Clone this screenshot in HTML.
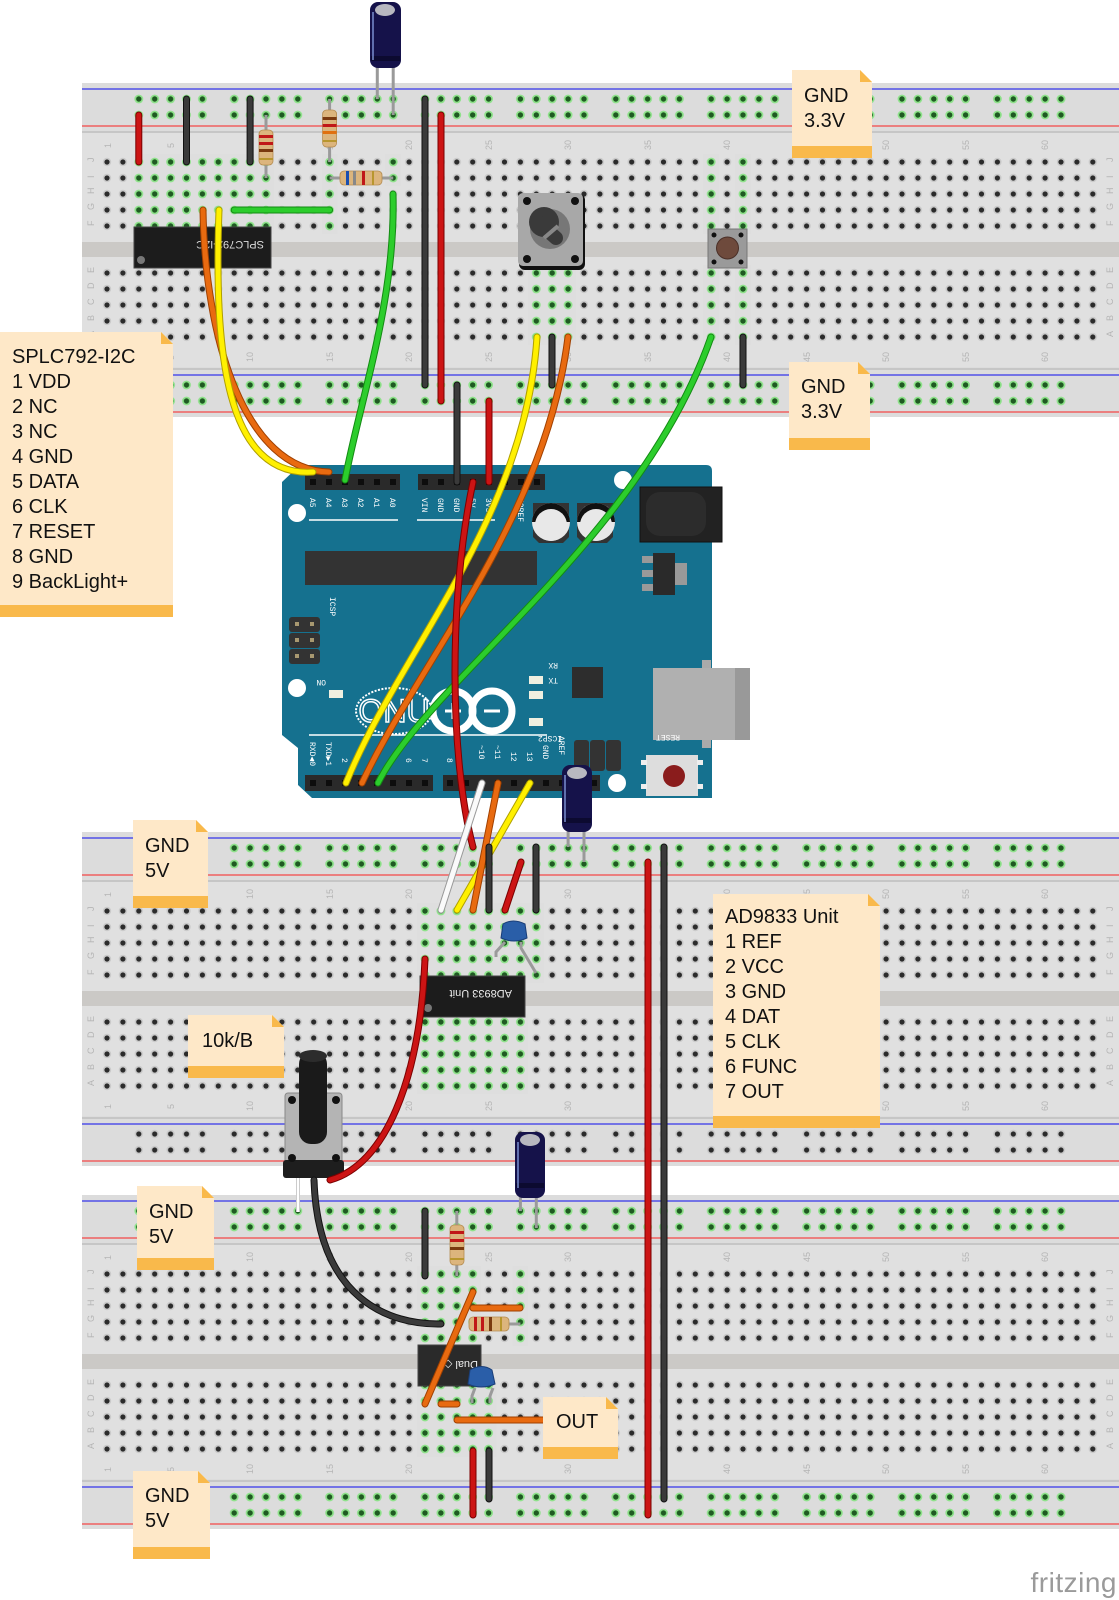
<!DOCTYPE html>
<html><head><meta charset="utf-8"><style>
html,body{margin:0;padding:0;background:#fff;}
svg{display:block;}
.n{font-family:"Liberation Sans",sans-serif;font-size:20px;fill:#111;}
.lb{font-family:"Liberation Sans",sans-serif;font-size:9px;fill:#b5b5b5;}
</style></head><body>
<svg width="1119" height="1600" viewBox="0 0 1119 1600" xmlns="http://www.w3.org/2000/svg">
<defs>
<pattern id="h" x="99.05" y="-8" width="15.9" height="16" patternUnits="userSpaceOnUse"><circle cx="7.95" cy="8" r="4.2" fill="#cacaca"/><circle cx="7.95" cy="8" r="2.6" fill="#2b2b2b"/></pattern>
<pattern id="hg" x="99.05" y="-8" width="15.9" height="16" patternUnits="userSpaceOnUse"><rect width="15.9" height="16" fill="#dedede"/><circle cx="7.95" cy="8" r="4.4" fill="#8ee28a"/><circle cx="7.95" cy="8" r="2.7" fill="#1f5a22"/></pattern>
<pattern id="r" x="130.85" y="-8" width="95.4" height="16" patternUnits="userSpaceOnUse"><g fill="#cacaca"><circle cx="7.95" cy="8" r="4.2"/><circle cx="23.85" cy="8" r="4.2"/><circle cx="39.75" cy="8" r="4.2"/><circle cx="55.65" cy="8" r="4.2"/><circle cx="71.55" cy="8" r="4.2"/></g><g fill="#2b2b2b"><circle cx="7.95" cy="8" r="2.6"/><circle cx="23.85" cy="8" r="2.6"/><circle cx="39.75" cy="8" r="2.6"/><circle cx="55.65" cy="8" r="2.6"/><circle cx="71.55" cy="8" r="2.6"/></g></pattern>
<pattern id="rg" x="130.85" y="-8" width="95.4" height="16" patternUnits="userSpaceOnUse"><g fill="#8ee28a"><circle cx="7.95" cy="8" r="4.4"/><circle cx="23.85" cy="8" r="4.4"/><circle cx="39.75" cy="8" r="4.4"/><circle cx="55.65" cy="8" r="4.4"/><circle cx="71.55" cy="8" r="4.4"/></g><g fill="#1f5a22"><circle cx="7.95" cy="8" r="2.7"/><circle cx="23.85" cy="8" r="2.7"/><circle cx="39.75" cy="8" r="2.7"/><circle cx="55.65" cy="8" r="2.7"/><circle cx="71.55" cy="8" r="2.7"/></g></pattern>
<g id="bb">
<rect x="82" y="83" width="1037" height="334" fill="#dcdcdc"/>
<rect x="82" y="133" width="1037" height="234" fill="#e0e0e0"/>
<rect x="82" y="242" width="1037" height="15" fill="#cbc9c6"/>
<line x1="82" y1="89" x2="1119" y2="89" stroke="#5050e8" stroke-width="1.5"/>
<line x1="82" y1="126" x2="1119" y2="126" stroke="#f06060" stroke-width="1.5"/>
<line x1="82" y1="132" x2="1119" y2="132" stroke="#c6c6c6" stroke-width="2"/>
<line x1="82" y1="369" x2="1119" y2="369" stroke="#c6c6c6" stroke-width="2"/>
<line x1="82" y1="375" x2="1119" y2="375" stroke="#5050e8" stroke-width="1.5"/>
<line x1="82" y1="412" x2="1119" y2="412" stroke="#f06060" stroke-width="1.5"/>
<g transform="translate(0,162)"><rect x="99.05" y="-8" width="1001.7" height="80" fill="url(#h)"/></g>
<g transform="translate(0,273)"><rect x="99.05" y="-8" width="1001.7" height="80" fill="url(#h)"/></g>
<g transform="translate(0,99)"><rect x="130.85" y="-8" width="954" height="32" fill="url(#r)"/></g>
<g transform="translate(0,385)"><rect x="130.85" y="-8" width="954" height="32" fill="url(#r)"/></g>
<g class="lb">
<text x="91" y="165" transform="rotate(-90 91 162)">J</text><text x="91" y="181" transform="rotate(-90 91 178)">I</text><text x="91" y="197" transform="rotate(-90 91 194)">H</text><text x="91" y="213" transform="rotate(-90 91 210)">G</text><text x="91" y="229" transform="rotate(-90 91 226)">F</text>
<text x="91" y="276" transform="rotate(-90 91 273)">E</text><text x="91" y="292" transform="rotate(-90 91 289)">D</text><text x="91" y="308" transform="rotate(-90 91 305)">C</text><text x="91" y="324" transform="rotate(-90 91 321)">B</text><text x="91" y="340" transform="rotate(-90 91 337)">A</text>
<text x="1110" y="165" transform="rotate(-90 1110 162)">J</text><text x="1110" y="181" transform="rotate(-90 1110 178)">I</text><text x="1110" y="197" transform="rotate(-90 1110 194)">H</text><text x="1110" y="213" transform="rotate(-90 1110 210)">G</text><text x="1110" y="229" transform="rotate(-90 1110 226)">F</text>
<text x="1110" y="276" transform="rotate(-90 1110 273)">E</text><text x="1110" y="292" transform="rotate(-90 1110 289)">D</text><text x="1110" y="308" transform="rotate(-90 1110 305)">C</text><text x="1110" y="324" transform="rotate(-90 1110 321)">B</text><text x="1110" y="340" transform="rotate(-90 1110 337)">A</text>
<text transform="translate(111,148) rotate(-90)">1</text><text transform="translate(174,148) rotate(-90)">5</text><text transform="translate(253,150) rotate(-90)">10</text><text transform="translate(333,150) rotate(-90)">15</text><text transform="translate(412,150) rotate(-90)">20</text><text transform="translate(492,150) rotate(-90)">25</text><text transform="translate(571,150) rotate(-90)">30</text><text transform="translate(651,150) rotate(-90)">35</text><text transform="translate(730,150) rotate(-90)">40</text><text transform="translate(810,150) rotate(-90)">45</text><text transform="translate(889,150) rotate(-90)">50</text><text transform="translate(969,150) rotate(-90)">55</text><text transform="translate(1048,150) rotate(-90)">60</text>
<text transform="translate(111,360) rotate(-90)">1</text><text transform="translate(174,360) rotate(-90)">5</text><text transform="translate(253,362) rotate(-90)">10</text><text transform="translate(333,362) rotate(-90)">15</text><text transform="translate(412,362) rotate(-90)">20</text><text transform="translate(492,362) rotate(-90)">25</text><text transform="translate(571,362) rotate(-90)">30</text><text transform="translate(651,362) rotate(-90)">35</text><text transform="translate(730,362) rotate(-90)">40</text><text transform="translate(810,362) rotate(-90)">45</text><text transform="translate(889,362) rotate(-90)">50</text><text transform="translate(969,362) rotate(-90)">55</text><text transform="translate(1048,362) rotate(-90)">60</text>
</g>
</g>
</defs>

<!-- breadboards -->
<use href="#bb"/>
<use href="#bb" y="749"/>
<use href="#bb" y="1112"/>

<!-- green overlays bb1 -->
<g transform="translate(0,99)"><rect x="130.85" y="-8" width="954" height="32" fill="url(#rg)"/></g>
<g transform="translate(0,385)"><rect x="130.85" y="-8" width="954" height="32" fill="url(#rg)"/></g>
<g transform="translate(0,162)"><rect x="130.85" y="-8" width="143.1" height="80" fill="url(#hg)"/><rect x="321.65" y="-8" width="15.9" height="80" fill="url(#hg)"/><rect x="385.25" y="-8" width="15.9" height="32" fill="url(#hg)"/><rect x="703.25" y="-8" width="15.9" height="80" fill="url(#hg)"/><rect x="735.05" y="-8" width="15.9" height="80" fill="url(#hg)"/></g>
<g transform="translate(0,273)"><rect x="528.35" y="-8" width="47.7" height="80" fill="url(#hg)"/><rect x="703.25" y="-8" width="15.9" height="80" fill="url(#hg)"/><rect x="735.05" y="-8" width="15.9" height="80" fill="url(#hg)"/></g>
<!-- bb2 -->
<g transform="translate(0,848)"><rect x="130.85" y="-8" width="954" height="32" fill="url(#rg)"/></g>
<g transform="translate(0,911)"><rect x="417.05" y="-8" width="127.2" height="80" fill="url(#hg)"/></g>
<g transform="translate(0,1022)"><rect x="417.05" y="-8" width="111.3" height="80" fill="url(#hg)"/></g>
<!-- bb3 -->
<g transform="translate(0,1211)"><rect x="130.85" y="-8" width="954" height="32" fill="url(#rg)"/></g>
<g transform="translate(0,1497)"><rect x="130.85" y="-8" width="954" height="32" fill="url(#rg)"/></g>
<g transform="translate(0,1274)"><rect x="417.05" y="-8" width="63.6" height="80" fill="url(#hg)"/><rect x="512.45" y="-8" width="15.9" height="80" fill="url(#hg)"/></g>
<g transform="translate(0,1385)"><rect x="417.05" y="-8" width="79.5" height="80" fill="url(#hg)"/></g>

<!-- bb1 parts -->
<g stroke-linecap="round" fill="none">
<line x1="138.8" y1="115" x2="138.8" y2="162" stroke="#7a0000" stroke-width="7"/><line x1="138.8" y1="115" x2="138.8" y2="162" stroke="#cc1414" stroke-width="5"/>
<line x1="186.5" y1="99" x2="186.5" y2="162" stroke="#111" stroke-width="7"/><line x1="186.5" y1="99" x2="186.5" y2="162" stroke="#3a3a3a" stroke-width="5"/>
<line x1="250.1" y1="99" x2="250.1" y2="162" stroke="#111" stroke-width="7"/><line x1="250.1" y1="99" x2="250.1" y2="162" stroke="#3a3a3a" stroke-width="5"/>
<line x1="234.2" y1="210" x2="329.6" y2="210" stroke="#138a13" stroke-width="7"/><line x1="234.2" y1="210" x2="329.6" y2="210" stroke="#2ccd2c" stroke-width="5"/>
</g>
<!-- resistors bb1 -->
<line x1="266" y1="115" x2="266" y2="178" stroke="#9a9a9a" stroke-width="3"/>
<rect x="259" y="130" width="14" height="35" rx="4" fill="#dcb57d" stroke="#b58c50" stroke-width="0.8"/>
<rect x="259" y="135" width="14" height="3" fill="#c01818"/><rect x="259" y="142" width="14" height="3" fill="#c01818"/><rect x="259" y="149" width="14" height="3" fill="#7a3a10"/><rect x="259" y="158" width="14" height="2" fill="#b8962e"/>
<line x1="329.6" y1="99" x2="329.6" y2="162" stroke="#9a9a9a" stroke-width="3"/>
<rect x="322.6" y="110" width="14" height="37" rx="4" fill="#dcb57d" stroke="#b58c50" stroke-width="0.8"/>
<rect x="322.6" y="117" width="14" height="3" fill="#7a3a10"/><rect x="322.6" y="124" width="14" height="3" fill="#c01818"/><rect x="322.6" y="131" width="14" height="3" fill="#e07010"/><rect x="322.6" y="140" width="14" height="2" fill="#b8962e"/>
<line x1="329.6" y1="178" x2="393.2" y2="178" stroke="#9a9a9a" stroke-width="3"/>
<rect x="340" y="171" width="42" height="14" rx="4" fill="#dcb57d" stroke="#b58c50" stroke-width="0.8"/>
<rect x="346" y="171" width="3" height="14" fill="#1a4fb0"/><rect x="353" y="171" width="3" height="14" fill="#888"/><rect x="362" y="171" width="3" height="14" fill="#c01818"/><rect x="372" y="171" width="2" height="14" fill="#b8962e"/>
<!-- SPLC chip -->
<rect x="134" y="227" width="137" height="41" fill="#1c1c1c" stroke="#444"/>
<text x="0" y="0" transform="translate(264,241) rotate(180)" font-family="Liberation Sans,sans-serif" font-size="11" fill="#ddd">SPLC792-I2C</text>
<circle cx="141" cy="260" r="4" fill="#777"/>
<!-- top capacitor -->
<line x1="377.3" y1="60" x2="377.3" y2="99" stroke="#9a9a9a" stroke-width="3"/><line x1="393.2" y1="60" x2="393.2" y2="115" stroke="#9a9a9a" stroke-width="3"/>
<rect x="370" y="2" width="31" height="66" rx="8" fill="#15124a"/>
<rect x="371" y="56" width="29" height="5" fill="#0c0a30"/>
<ellipse cx="385" cy="10" rx="10" ry="6" fill="#b8b8c0"/>
<line x1="373" y1="12" x2="373" y2="60" stroke="#7a8ed0" stroke-width="1.5"/>
<!-- pot bb1 -->
<rect x="519" y="194" width="66" height="76" rx="6" fill="#111"/>
<rect x="518" y="193" width="65" height="73" rx="5" fill="#a8a8a8"/>
<circle cx="527" cy="201" r="4" fill="#111"/><circle cx="575" cy="201" r="4" fill="#111"/><circle cx="527" cy="259" r="4" fill="#111"/><circle cx="575" cy="259" r="4" fill="#111"/>
<circle cx="550" cy="229" r="20" fill="#777"/>
<circle cx="544" cy="222" r="15" fill="#3a3a3a"/>
<path d="M538,222 L556,238" stroke="#3a3a3a" stroke-width="14" stroke-linecap="round"/>
<path d="M544,238 L558,226" stroke="#888" stroke-width="4"/>
<!-- pushbutton -->
<rect x="708" y="229" width="39" height="39" fill="#9a9a9a" stroke="#777"/>
<circle cx="714" cy="235" r="2.5" fill="#111"/><circle cx="741" cy="235" r="2.5" fill="#111"/><circle cx="714" cy="262" r="2.5" fill="#111"/><circle cx="741" cy="262" r="2.5" fill="#111"/>
<circle cx="727.5" cy="248" r="11" fill="#6e4a3c" stroke="#4a3028"/>

<!-- Arduino -->
<path d="M300,465 L706,465 Q712,465 712,471 L712,798 L312,798 L298,785 L298,748 L282,735 L282,482 Z" fill="#15718f"/>
<circle cx="297" cy="513" r="9" fill="#fff"/><circle cx="623" cy="480" r="9" fill="#fff"/><circle cx="297" cy="688" r="9" fill="#fff"/><circle cx="617" cy="783" r="9" fill="#fff"/>
<rect x="305" y="551" width="232" height="34" fill="#333"/>
<path d="M533,503 h36 v34 l-6,6 h-24 l-6,-6 z" fill="#333"/><circle cx="551" cy="522" r="19" fill="#e8e8e8"/><path d="M532,522 a19,19 0 0 1 38,0 z" fill="#111" transform="rotate(0)"/><circle cx="551" cy="525" r="16" fill="#e8e8e8"/>
<path d="M577,503 h36 v34 l-6,6 h-24 l-6,-6 z" fill="#333"/><circle cx="596" cy="522" r="19" fill="#e8e8e8"/><path d="M577,522 a19,19 0 0 1 38,0 z" fill="#111"/><circle cx="596" cy="525" r="16" fill="#e8e8e8"/>
<rect x="640" y="487" width="82" height="55" fill="#222" stroke="#111"/><rect x="646" y="492" width="60" height="44" rx="14" fill="#2c2c2c"/>
<rect x="642" y="556" width="11" height="7" fill="#999"/><rect x="642" y="570" width="11" height="7" fill="#999"/><rect x="642" y="584" width="11" height="7" fill="#999"/><rect x="675" y="563" width="12" height="22" fill="#999"/><rect x="653" y="553" width="22" height="42" fill="#2a2a2a"/>
<rect x="653" y="668" width="97" height="72" fill="#b0b0b0"/><rect x="735" y="668" width="15" height="72" fill="#999"/><rect x="702" y="660" width="9" height="8" fill="#aaa"/><rect x="702" y="740" width="9" height="8" fill="#aaa"/>
<rect x="572" y="667" width="31" height="31" fill="#2d2d2d"/>
<rect x="646" y="755" width="52" height="41" fill="#ddd"/><rect x="641" y="760" width="6" height="5" fill="#eee"/><rect x="697" y="760" width="6" height="5" fill="#eee"/><rect x="641" y="784" width="6" height="5" fill="#eee"/><rect x="697" y="784" width="6" height="5" fill="#eee"/><circle cx="674" cy="776" r="11" fill="#8a1c1c"/>
<g fill="#333"><rect x="289" y="617" width="31" height="15" rx="3"/><rect x="289" y="633" width="31" height="15" rx="3"/><rect x="289" y="649" width="31" height="15" rx="3"/></g>
<g fill="#a89870"><rect x="295" y="622" width="4" height="4"/><rect x="310" y="622" width="4" height="4"/><rect x="295" y="638" width="4" height="4"/><rect x="310" y="638" width="4" height="4"/><rect x="295" y="654" width="4" height="4"/><rect x="310" y="654" width="4" height="4"/></g>
<g fill="#333"><rect x="574" y="740" width="15" height="31" rx="3"/><rect x="590" y="740" width="15" height="31" rx="3"/><rect x="606" y="740" width="15" height="31" rx="3"/></g>
<g fill="#efefe0"><rect x="329" y="690" width="14" height="8"/><rect x="529" y="676" width="14" height="8"/><rect x="529" y="691" width="14" height="8"/><rect x="529" y="718" width="14" height="8"/></g>
<ellipse cx="394" cy="711" rx="38" ry="23" fill="none" stroke="#fff" stroke-width="2" stroke-dasharray="2 1.5"/>
<text x="394" y="722" text-anchor="middle" font-family="Liberation Sans,sans-serif" font-size="32" fill="none" stroke="#fff" stroke-width="1.5">ONU</text>
<circle cx="453" cy="711" r="20" fill="none" stroke="#fff" stroke-width="7"/><circle cx="492" cy="711" r="20" fill="none" stroke="#fff" stroke-width="7"/>
<line x1="445" y1="711" x2="461" y2="711" stroke="#fff" stroke-width="3"/><line x1="453" y1="703" x2="453" y2="719" stroke="#fff" stroke-width="3"/><line x1="484" y1="711" x2="500" y2="711" stroke="#fff" stroke-width="3"/>
<line x1="309" y1="520" x2="398" y2="520" stroke="#fff" stroke-width="1.5"/><line x1="417" y1="520" x2="495" y2="520" stroke="#fff" stroke-width="1.5"/><line x1="309" y1="735" x2="547" y2="735" stroke="#fff" stroke-width="1.5"/>
<g font-family="Liberation Mono,monospace" font-size="8" fill="#fff">
<text transform="translate(310,498) rotate(90)">A5</text><text transform="translate(326,498) rotate(90)">A4</text><text transform="translate(342,498) rotate(90)">A3</text><text transform="translate(358,498) rotate(90)">A2</text><text transform="translate(374,498) rotate(90)">A1</text><text transform="translate(390,498) rotate(90)">A0</text>
<text transform="translate(422,498) rotate(90)">VIN</text><text transform="translate(438,498) rotate(90)">GND</text><text transform="translate(454,498) rotate(90)">GND</text><text transform="translate(470,498) rotate(90)">5V</text><text transform="translate(486,498) rotate(90)">3V3</text><text transform="translate(518,498) rotate(90)">IOREF</text>
<text transform="translate(310,742) rotate(90)">RXD◀0</text><text transform="translate(326,742) rotate(90)">TXD▶1</text><text transform="translate(342,758) rotate(90)">2</text><text transform="translate(406,758) rotate(90)">6</text><text transform="translate(422,758) rotate(90)">7</text>
<text transform="translate(447,758) rotate(90)">8</text><text transform="translate(479,745) rotate(90)">~10</text><text transform="translate(495,745) rotate(90)">~11</text><text transform="translate(511,752) rotate(90)">12</text><text transform="translate(527,752) rotate(90)">13</text><text transform="translate(543,745) rotate(90)">GND</text><text transform="translate(559,736) rotate(90)">AREF</text>
<text transform="translate(562,736) rotate(180)">ICSP2</text><text transform="translate(330,597) rotate(90)">ICSP</text><text transform="translate(558,663) rotate(180)">RX</text><text transform="translate(558,678) rotate(180)">TX</text><text transform="translate(680,735) rotate(180)">RESET</text><text transform="translate(326,680) rotate(180)">ON</text>
</g>
<!-- headers -->
<rect x="305" y="474" width="95" height="16" fill="#2a2a2a"/><rect x="418" y="474" width="127" height="16" fill="#2a2a2a"/>
<rect x="305" y="775" width="128" height="16" fill="#2a2a2a"/><rect x="443" y="775" width="157" height="16" fill="#2a2a2a"/>
<g fill="#0d0d0d">
<rect x="310" y="479" width="6" height="6"/><rect x="326" y="479" width="6" height="6"/><rect x="342" y="479" width="6" height="6"/><rect x="358" y="479" width="6" height="6"/><rect x="374" y="479" width="6" height="6"/><rect x="390" y="479" width="6" height="6"/>
<rect x="422" y="479" width="6" height="6"/><rect x="438" y="479" width="6" height="6"/><rect x="454" y="479" width="6" height="6"/><rect x="470" y="479" width="6" height="6"/><rect x="486" y="479" width="6" height="6"/><rect x="502" y="479" width="6" height="6"/><rect x="518" y="479" width="6" height="6"/><rect x="534" y="479" width="6" height="6"/>
<rect x="310" y="780" width="6" height="6"/><rect x="326" y="780" width="6" height="6"/><rect x="342" y="780" width="6" height="6"/><rect x="358" y="780" width="6" height="6"/><rect x="374" y="780" width="6" height="6"/><rect x="390" y="780" width="6" height="6"/><rect x="406" y="780" width="6" height="6"/><rect x="422" y="780" width="6" height="6"/>
<rect x="447" y="780" width="6" height="6"/><rect x="463" y="780" width="6" height="6"/><rect x="479" y="780" width="6" height="6"/><rect x="495" y="780" width="6" height="6"/><rect x="511" y="780" width="6" height="6"/><rect x="527" y="780" width="6" height="6"/><rect x="543" y="780" width="6" height="6"/><rect x="559" y="780" width="6" height="6"/><rect x="575" y="780" width="6" height="6"/><rect x="591" y="780" width="6" height="6"/>
</g>

<!-- bb2 parts -->
<rect x="420" y="976" width="105" height="41" fill="#1c1c1c" stroke="#444"/>
<text transform="translate(512,990) rotate(180)" font-family="Liberation Sans,sans-serif" font-size="11" fill="#eee">AD8933 Unit</text>
<circle cx="428" cy="1008" r="4" fill="#777"/>
<path d="M505,942 L496,952 L496,957" stroke="#9a9a9a" stroke-width="3" fill="none"/><path d="M521,942 L521,948 L536,973" stroke="#9a9a9a" stroke-width="3" fill="none"/>
<path d="M503,924 q10,-6 22,0 l2,14 q-13,6 -26,0 z" fill="#2a5ea8" stroke="#1a3e78"/>
<line x1="568.1" y1="820" x2="568.1" y2="847" stroke="#9a9a9a" stroke-width="3"/><line x1="584" y1="820" x2="584" y2="862" stroke="#9a9a9a" stroke-width="3"/>
<rect x="562" y="765" width="30" height="67" rx="8" fill="#15124a"/><rect x="563" y="818" width="28" height="5" fill="#0c0a30"/><ellipse cx="577" cy="773" rx="10" ry="6" fill="#b8b8c0"/><line x1="565" y1="775" x2="565" y2="822" stroke="#7a8ed0" stroke-width="1.5"/>

<!-- bb3 parts -->
<line x1="456.8" y1="1211" x2="456.8" y2="1276" stroke="#9a9a9a" stroke-width="3"/>
<rect x="450" y="1225" width="14" height="40" rx="4" fill="#dcb57d" stroke="#b58c50" stroke-width="0.8"/>
<rect x="450" y="1231" width="14" height="3" fill="#c01818"/><rect x="450" y="1239" width="14" height="3" fill="#c01818"/><rect x="450" y="1247" width="14" height="3" fill="#7a3a10"/><rect x="450" y="1258" width="14" height="2" fill="#b8962e"/>
<line x1="488.6" y1="1324" x2="520.4" y2="1324" stroke="#9a9a9a" stroke-width="3"/>
<rect x="469" y="1317" width="40" height="14" rx="4" fill="#dcb57d" stroke="#b58c50" stroke-width="0.8"/>
<rect x="474" y="1317" width="3" height="14" fill="#c01818"/><rect x="481" y="1317" width="3" height="14" fill="#c01818"/><rect x="489" y="1317" width="3" height="14" fill="#7a3a10"/><rect x="500" y="1317" width="2" height="14" fill="#b8962e"/>
<rect x="418" y="1345" width="63" height="41" fill="#2a2a2a" stroke="#444"/>
<text transform="translate(478,1361) rotate(180)" font-family="Liberation Sans,sans-serif" font-size="11" fill="#eee">Dual ◇</text>
<path d="M475,1388 L472,1396 L472,1403" stroke="#9a9a9a" stroke-width="3" fill="none"/><path d="M493,1388 L490,1396 L490,1403" stroke="#9a9a9a" stroke-width="3" fill="none"/>
<path d="M470,1370 q12,-7 22,0 l3,14 q-14,6 -27,0 z" fill="#2a5ea8" stroke="#1a3e78"/>
<line x1="520.4" y1="1180" x2="520.4" y2="1211" stroke="#9a9a9a" stroke-width="3"/><line x1="536.3" y1="1180" x2="536.3" y2="1228" stroke="#9a9a9a" stroke-width="3"/>
<rect x="515" y="1132" width="30" height="66" rx="8" fill="#15124a"/><rect x="516" y="1183" width="28" height="5" fill="#0c0a30"/><ellipse cx="530" cy="1140" rx="10" ry="6" fill="#b8b8c0"/><line x1="518" y1="1142" x2="518" y2="1188" stroke="#7a8ed0" stroke-width="1.5"/>

<!-- 10k pot -->
<line x1="298" y1="1175" x2="298" y2="1212" stroke="#ccc" stroke-width="4"/><line x1="298" y1="1175" x2="298" y2="1212" stroke="#fff" stroke-width="2"/>
<rect x="285" y="1093" width="57" height="76" rx="3" fill="#b4b4b4" stroke="#888"/>
<rect x="283" y="1160" width="61" height="18" rx="3" fill="#1e1e1e"/>
<circle cx="292" cy="1100" r="4" fill="#111"/><circle cx="336" cy="1100" r="4" fill="#111"/><circle cx="292" cy="1158" r="4" fill="#111"/><circle cx="336" cy="1158" r="4" fill="#111"/>
<rect x="299" y="1052" width="28" height="92" rx="12" fill="#1a1a1a"/><ellipse cx="313" cy="1056" rx="14" ry="6" fill="#2c2c2c"/>

<!-- wires -->
<g fill="none" stroke-linecap="round">
<!-- bb1 -->
<path d="M425,99 V385" stroke="#111" stroke-width="7"/><path d="M425,99 V385" stroke="#3a3a3a" stroke-width="5"/>
<path d="M441,115 V401" stroke="#7a0000" stroke-width="7"/><path d="M441,115 V401" stroke="#cc1414" stroke-width="5"/>
<path d="M457,385 V482" stroke="#111" stroke-width="7"/><path d="M457,385 V482" stroke="#3a3a3a" stroke-width="5"/>
<path d="M489,401 V482" stroke="#7a0000" stroke-width="7"/><path d="M489,401 V482" stroke="#cc1414" stroke-width="5"/>
<path d="M552,337 V385" stroke="#111" stroke-width="7"/><path d="M552,337 V385" stroke="#3a3a3a" stroke-width="5"/>
<path d="M743,337 V385" stroke="#111" stroke-width="7"/><path d="M743,337 V385" stroke="#3a3a3a" stroke-width="5"/>
<path d="M203,210 C205,340 245,470 329,472" stroke="#a04000" stroke-width="7"/><path d="M203,210 C205,340 245,470 329,472" stroke="#e86a10" stroke-width="5"/>
<path d="M219,210 C214,350 225,478 313,472" stroke="#b0a000" stroke-width="7"/><path d="M219,210 C214,350 225,478 313,472" stroke="#fff000" stroke-width="5"/>
<path d="M393,194 C396,300 360,400 345,480" stroke="#138a13" stroke-width="7"/><path d="M393,194 C396,300 360,400 345,480" stroke="#2ccd2c" stroke-width="5"/>
<path d="M537,337 C525,520 400,650 346,783" stroke="#b0a000" stroke-width="7"/><path d="M537,337 C525,520 400,650 346,783" stroke="#fff000" stroke-width="5"/>
<path d="M568,337 C545,520 420,660 362,783" stroke="#a04000" stroke-width="7"/><path d="M568,337 C545,520 420,660 362,783" stroke="#e86a10" stroke-width="5"/>
<path d="M711,337 C640,540 430,680 378,783" stroke="#138a13" stroke-width="7"/><path d="M711,337 C640,540 430,680 378,783" stroke="#2ccd2c" stroke-width="5"/>
<!-- arduino to bb2 -->
<path d="M473,482 C448,600 450,760 473,847" stroke="#7a0000" stroke-width="7"/><path d="M473,482 C448,600 450,760 473,847" stroke="#cc1414" stroke-width="5"/>
<path d="M482,783 L441,910" stroke="#999" stroke-width="7"/><path d="M482,783 L441,910" stroke="#fafafa" stroke-width="5"/>
<path d="M530,783 L457,910" stroke="#b0a000" stroke-width="7"/><path d="M530,783 L457,910" stroke="#fff000" stroke-width="5"/>
<path d="M498,783 L473,910" stroke="#a04000" stroke-width="7"/><path d="M498,783 L473,910" stroke="#e86a10" stroke-width="5"/>
<!-- bb2 -->
<path d="M489,847 V910" stroke="#111" stroke-width="7"/><path d="M489,847 V910" stroke="#3a3a3a" stroke-width="5"/>
<path d="M521,862 L505,910" stroke="#7a0000" stroke-width="7"/><path d="M521,862 L505,910" stroke="#cc1414" stroke-width="5"/>
<path d="M536,847 V910" stroke="#111" stroke-width="7"/><path d="M536,847 V910" stroke="#3a3a3a" stroke-width="5"/>
<path d="M648,862 V1515" stroke="#7a0000" stroke-width="7"/><path d="M648,862 V1515" stroke="#cc1414" stroke-width="5"/>
<path d="M664,847 V1499" stroke="#111" stroke-width="7"/><path d="M664,847 V1499" stroke="#3a3a3a" stroke-width="5"/>
<path d="M425,959 C420,1080 385,1165 330,1180" stroke="#7a0000" stroke-width="7"/><path d="M425,959 C420,1080 385,1165 330,1180" stroke="#cc1414" stroke-width="5"/>
<path d="M314,1180 C318,1300 390,1325 441,1324" stroke="#111" stroke-width="7"/><path d="M314,1180 C318,1300 390,1325 441,1324" stroke="#3a3a3a" stroke-width="5"/>
<!-- bb3 -->
<path d="M425,1211 V1276" stroke="#111" stroke-width="7"/><path d="M425,1211 V1276" stroke="#3a3a3a" stroke-width="5"/>
<path d="M473,1292 L425,1404" stroke="#a04000" stroke-width="7"/><path d="M473,1292 L425,1404" stroke="#e86a10" stroke-width="5"/>
<path d="M473,1308 H520" stroke="#a04000" stroke-width="7"/><path d="M473,1308 H520" stroke="#e86a10" stroke-width="5"/>
<path d="M441,1404 H457" stroke="#a04000" stroke-width="7"/><path d="M441,1404 H457" stroke="#e86a10" stroke-width="5"/>
<path d="M457,1420 H545" stroke="#a04000" stroke-width="7"/><path d="M457,1420 H545" stroke="#e86a10" stroke-width="5"/>
<path d="M473,1451 V1515" stroke="#7a0000" stroke-width="7"/><path d="M473,1451 V1515" stroke="#cc1414" stroke-width="5"/>
<path d="M489,1451 V1499" stroke="#111" stroke-width="7"/><path d="M489,1451 V1499" stroke="#3a3a3a" stroke-width="5"/>
</g>

<!-- notes -->
<g>
<path d="M0,332 H161 L173,344 V617 H0 Z" fill="#fee8c8"/><path d="M161,332 L173,344 H161 Z" fill="#f9b94b"/><rect x="0" y="605" width="173" height="12" fill="#f9b94b"/>
<g class="n"><text x="12" y="363">SPLC792-I2C</text><text x="12" y="388">1 VDD</text><text x="12" y="413">2 NC</text><text x="12" y="438">3 NC</text><text x="12" y="463">4 GND</text><text x="12" y="488">5 DATA</text><text x="12" y="513">6 CLK</text><text x="12" y="538">7 RESET</text><text x="12" y="563">8 GND</text><text x="12" y="588">9 BackLight+</text></g>

<path d="M792,70 H860 L872,82 V158 H792 Z" fill="#fee8c8"/><path d="M860,70 L872,82 H860 Z" fill="#f9b94b"/><rect x="792" y="146" width="80" height="12" fill="#f9b94b"/>
<g class="n"><text x="804" y="102">GND</text><text x="804" y="127">3.3V</text></g>
<path d="M789,362 H858 L870,374 V450 H789 Z" fill="#fee8c8"/><path d="M858,362 L870,374 H858 Z" fill="#f9b94b"/><rect x="789" y="438" width="81" height="12" fill="#f9b94b"/>
<g class="n"><text x="801" y="393">GND</text><text x="801" y="418">3.3V</text></g>

<path d="M133,820 H196 L208,832 V908 H133 Z" fill="#fee8c8"/><path d="M196,820 L208,832 H196 Z" fill="#f9b94b"/><rect x="133" y="896" width="75" height="12" fill="#f9b94b"/>
<g class="n"><text x="145" y="852">GND</text><text x="145" y="877">5V</text></g>

<path d="M713,894 H868 L880,906 V1128 H713 Z" fill="#fee8c8"/><path d="M868,894 L880,906 H868 Z" fill="#f9b94b"/><rect x="713" y="1116" width="167" height="12" fill="#f9b94b"/>
<g class="n"><text x="725" y="923">AD9833 Unit</text><text x="725" y="948">1 REF</text><text x="725" y="973">2 VCC</text><text x="725" y="998">3 GND</text><text x="725" y="1023">4 DAT</text><text x="725" y="1048">5 CLK</text><text x="725" y="1073">6 FUNC</text><text x="725" y="1098">7 OUT</text></g>

<path d="M188,1015 H272 L284,1027 V1078 H188 Z" fill="#fee8c8"/><path d="M272,1015 L284,1027 H272 Z" fill="#f9b94b"/><rect x="188" y="1066" width="96" height="12" fill="#f9b94b"/>
<text class="n" x="202" y="1047">10k/B</text>

<path d="M137,1186 H202 L214,1198 V1270 H137 Z" fill="#fee8c8"/><path d="M202,1186 L214,1198 H202 Z" fill="#f9b94b"/><rect x="137" y="1258" width="77" height="12" fill="#f9b94b"/>
<g class="n"><text x="149" y="1218">GND</text><text x="149" y="1243">5V</text></g>

<path d="M543,1397 H606 L618,1409 V1459 H543 Z" fill="#fee8c8"/><path d="M606,1397 L618,1409 H606 Z" fill="#f9b94b"/><rect x="543" y="1447" width="75" height="12" fill="#f9b94b"/>
<text class="n" x="556" y="1428">OUT</text>

<path d="M133,1471 H198 L210,1483 V1559 H133 Z" fill="#fee8c8"/><path d="M198,1471 L210,1483 H198 Z" fill="#f9b94b"/><rect x="133" y="1547" width="77" height="12" fill="#f9b94b"/>
<g class="n"><text x="145" y="1502">GND</text><text x="145" y="1527">5V</text></g>
</g>

<text x="1117" y="1592" text-anchor="end" font-family="Liberation Sans,sans-serif" font-size="28" fill="#9a9a9a" letter-spacing="0.5">fritzing</text>
</svg>
</body></html>
